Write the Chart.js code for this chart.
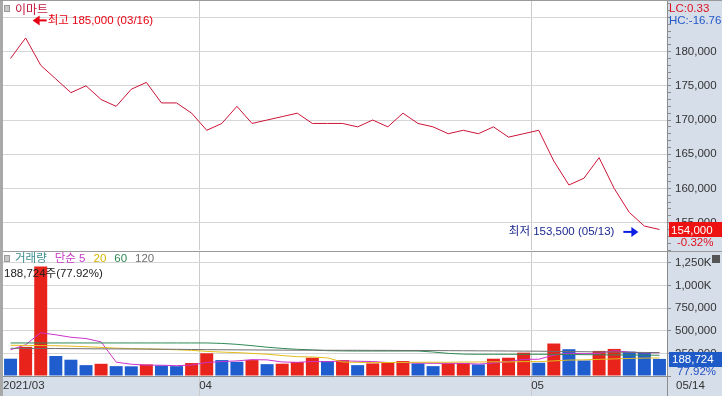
<!DOCTYPE html>
<html>
<head>
<meta charset="utf-8">
<script src="https://cdn.jsdelivr.net/npm/chart.js"></script>
<style>
  html, body { margin: 0; padding: 0; background: #fff; }
  #wrap { position: relative; width: 722px; height: 396px; overflow: hidden; background: #fff; }
  .abs { position: absolute; }
  #axisBg { left: 667px; top: 0; width: 55px; height: 396px; background: #d5dee9; }
  #bandBg { left: 0; top: 376px; width: 722px; height: 20px; background: #d5dee9; }
  #sep { left: 0; top: 251px; width: 722px; height: 1px; background: #9a9a9a; }
  #leftEdge { left: 0; top: 0; width: 3px; height: 396px; background: #a8a8a8; }
  #topEdge { left: 0; top: 0; width: 722px; height: 1px; background: #9a9a9a; }
  #price { left: 0; top: 0; }
  #volume { left: 0; top: 251px; }
</style>
</head>
<body>
<div id="wrap">
  <div class="abs" id="axisBg"></div>
  <div class="abs" id="bandBg"></div>
  <div class="abs" id="sep"></div>
  <canvas class="abs" id="price" width="722" height="251"></canvas>
  <canvas class="abs" id="volume" width="722" height="145"></canvas>
  <div class="abs" id="leftEdge"></div>
  <div class="abs" id="topEdge"></div>
</div>
<script>
// ---- data ----
const stockName = '이마트';
const firstTickLabel = '2021/03';

const dates = [
  '03/15', '03/16', '03/17', '03/18', '03/19', '03/22', '03/23', '03/24', '03/25', '03/26', '03/29', '03/30', '03/31',
  '04/01', '04/02', '04/05', '04/06', '04/07', '04/08', '04/09', '04/12', '04/13', '04/14', '04/15', '04/16',
  '04/19', '04/20', '04/21', '04/22', '04/23', '04/26', '04/27', '04/28', '04/29', '04/30',
  '05/03', '05/04', '05/06', '05/07', '05/10', '05/11', '05/12', '05/13', '05/14'
];

const closes = [
  179000, 182000, 178000, 176000, 174000, 175000, 173000, 172000, 174500, 175500, 172500, 172500, 171000,
  168500, 169500, 172000, 169500, 170000, 170500, 171000, 169500, 169500, 169500, 169000, 170000,
  169000, 171000, 169500, 169000, 168000, 168500, 168000, 169000, 167500, 168000,
  168500, 164000, 160500, 161500, 164500, 160000, 156500, 154500, 154000
];

const volumes = [
  191000, 322000, 1210000, 221000, 180000, 120000, 135000, 109000, 107000, 128000, 116000, 109000, 143000,
  251000, 176000, 157000, 176000, 131000, 136000, 154000, 202000, 165000, 176000, 120000, 139000,
  146000, 165000, 139000, 109000, 139000, 143000, 128000, 191000, 202000, 258000,
  146000, 359000, 296000, 172000, 277000, 299000, 269000, 258000, 188724
];

const ma5 = [
  290000, 345000, 478000, 455000, 428000, 414000, 377000, 153000, 130000, 120000, 119000, 114000, 121000,
  149000, 159000, 167000, 181000, 178000, 155000, 151000, 160000, 158000, 167000, 163000, 160000,
  149000, 149000, 142000, 140000, 140000, 139000, 132000, 142000, 161000, 184000,
  185000, 231000, 252000, 246000, 250000, 281000, 263000, 255000, 258000
];

const ma20 = [
  340000, 338000, 336000, 334000, 330000, 324000, 316000, 308000, 303000, 299000, 295000, 290000, 283000,
  272000, 264000, 258000, 250000, 240000, 226000, 214000, 210000, 200000, 155000, 150000, 148000,
  149000, 150000, 152000, 152000, 152000, 154000, 155000, 157000, 155000, 159000,
  158000, 167000, 176000, 178000, 184000, 189000, 194000, 198000, 200000
];

const ma60 = [
  365000, 365000, 365000, 365000, 365000, 365000, 365000, 365000, 365000, 365000, 365000, 365000, 365000,
  365000, 360000, 350000, 335000, 318000, 305000, 295000, 288000, 280000, 277000, 276000, 276000,
  276000, 276000, 276000, 265000, 250000, 242000, 240000, 240000, 240000, 240000,
  240000, 240000, 238000, 236000, 234000, 233000, 232000, 231000, 229000
];

const ma120 = [
  306000, 305000, 304000, 303000, 302000, 301000, 300000, 299000, 298000, 297000, 296000, 295000, 293000,
  291000, 290000, 289000, 288000, 287000, 286000, 285000, 285000, 284000, 284000, 284000, 283000,
  283000, 282000, 282000, 281000, 280000, 279000, 278000, 277000, 276000, 275000,
  274000, 272000, 270000, 268000, 266000, 264000, 262000, 260000, 258000
];

const highPrice = 185000, highDate = '03/16';
const lowPrice = 153500, lowDate = '05/13';
const lcText = 'LC:0.33', hcText = 'HC:-16.76';
const lastChange = '-0.32%';
const volumeRatio = '77.92%';
const priceLabelTop = 180000;   // labels above this are covered by LC/HC

// ---- styles ----
const FONT = '11.5px "Liberation Sans", "Noto Sans CJK KR", sans-serif';
const KFONT = '12px "Noto Sans CJK KR", "Liberation Sans", sans-serif';
const GRID = '#d6d6d6';
const AXIS = '#8c8c8c';
const UP = '#e8231b', DOWN = '#1f5dcf';
const AXIS_W = 55;

Chart.defaults.font.family = '"Liberation Sans", "Noto Sans CJK KR", sans-serif';
Chart.defaults.font.size = 11.5;
Chart.defaults.color = '#333';

const fmt = v => v.toLocaleString('en-US');

// boundary labels: one per bar edge, month name where a month starts
const boundaryLabels = [];
for (let i = 0; i <= dates.length; i++) {
  if (i === 0) boundaryLabels.push(firstTickLabel);
  else if (i < dates.length && dates[i].slice(0, 2) !== dates[i - 1].slice(0, 2)) boundaryLabels.push(dates[i].slice(0, 2));
  else boundaryLabels.push('');
}
const edgeColor = ctx => {
  const i = ctx.index;
  if (i === boundaryLabels.length - 1) return AXIS;
  return i > 0 && boundaryLabels[i] ? '#cbcbcb' : 'transparent';
};

// ticks on whole multiples of the step, inside the axis range
const stepTicks = step => s => {
  const ticks = [];
  for (let v = Math.ceil(s.min / step) * step; v <= s.max; v += step) ticks.push({ value: v });
  s.ticks = ticks;
};

// fixed axis width and no extra room for half labels
const fitRight = s => {
  s.width = AXIS_W;
  s.paddingTop = 0;
  s.paddingBottom = 0;
};

function marker(ctx, x, y) {
  ctx.fillStyle = '#9a9a9a';
  ctx.fillRect(x, y, 6, 7);
  ctx.fillStyle = '#c8c8c8';
  ctx.fillRect(x + 1, y + 1, 4, 5);
}

function arrow(ctx, x1, y1, x2, y2, color) {
  const dir = Math.sign(x2 - x1);
  ctx.strokeStyle = color;
  ctx.fillStyle = color;
  ctx.lineWidth = 2;
  ctx.beginPath();
  ctx.moveTo(x1, y1);
  ctx.lineTo(x2 - dir * 5, y2);
  ctx.stroke();
  ctx.beginPath();
  ctx.moveTo(x2, y2);
  ctx.lineTo(x2 - dir * 7, y2 - 5);
  ctx.lineTo(x2 - dir * 7, y2 + 5);
  ctx.closePath();
  ctx.fill();
}

const priceNotes = {
  id: 'priceNotes',
  afterDraw(chart) {
    const { ctx, chartArea, scales } = chart;
    const x = scales.x, y = scales.y;
    ctx.save();
    ctx.textBaseline = 'middle';
    ctx.textAlign = 'left';

    marker(ctx, 4, 5);
    ctx.font = KFONT;
    ctx.fillStyle = '#c4183c';
    ctx.fillText(stockName, 15, 9);

    // highest
    const hx = x.getPixelForValue(dates.indexOf(highDate)) + 7;
    const hy = y.getPixelForValue(highPrice) + 3;
    arrow(ctx, hx + 14, hy, hx, hy, '#e60012');
    ctx.font = FONT;
    ctx.fillStyle = '#e60012';
    ctx.fillText('최고 ' + fmt(highPrice) + ' (' + highDate + ')', hx + 15, hy);

    // lowest
    const lx = x.getPixelForValue(dates.indexOf(lowDate)) - 6;
    const ly = y.getPixelForValue(lowPrice) - 1;
    arrow(ctx, lx - 15, ly, lx, ly, '#0a1ee6');
    ctx.textAlign = 'right';
    ctx.fillStyle = '#1c2890';
    ctx.fillText('최저 ' + fmt(lowPrice) + ' (' + lowDate + ')', lx - 24, ly);

    // axis corner notes
    const ax = chartArea.right + 2;
    ctx.textAlign = 'left';
    ctx.fillStyle = '#e0101e';
    ctx.fillText(lcText, ax, 9);
    ctx.fillStyle = '#2457c8';
    ctx.fillText(hcText, ax, 21);

    // last price tag
    const last = closes[closes.length - 1];
    const ty = y.getPixelForValue(last);
    ctx.fillStyle = '#ee1111';
    ctx.fillRect(ax, Math.round(ty) - 7, chart.width - ax, 15);
    ctx.fillStyle = '#fff';
    ctx.fillText(fmt(last), ax + 2, ty + 1);
    ctx.fillStyle = '#e0101e';
    ctx.fillText(lastChange, ax + 8, ty + 13);
    ctx.restore();
  }
};

const volumeNotes = {
  id: 'volumeNotes',
  afterDraw(chart) {
    const { ctx, chartArea, scales } = chart;
    const y = scales.y;
    ctx.save();
    ctx.textBaseline = 'middle';
    ctx.textAlign = 'left';

    marker(ctx, 4, 4);
    const legend = [
      ['거래량', '#3a8e8e'], ['단순 5', '#c43cc4'], ['20', '#d8b400'], ['60', '#2f8a55'], ['120', '#707070']
    ];
    let lx = 15;
    ctx.font = FONT;
    legend.forEach(([t, c]) => {
      ctx.fillStyle = c;
      ctx.fillText(t, lx, 8);
      lx += ctx.measureText(t).width + 8;
    });

    const last = volumes[volumes.length - 1];
    ctx.fillStyle = '#222';
    ctx.fillText(fmt(last) + '주(' + volumeRatio + ')', 4, 23);

    // last volume tag
    const ax = chartArea.right + 2;
    const ty = y.getPixelForValue(last);
    ctx.fillStyle = '#1f5bc6';
    ctx.fillRect(ax, Math.round(ty) - 7, chart.width - ax, 15);
    ctx.fillStyle = '#fff';
    ctx.fillText(fmt(last), ax + 3, ty + 1);
    ctx.fillStyle = '#2350c4';
    ctx.fillText(volumeRatio, ax + 8, ty + 13);

    // last date in the corner
    ctx.fillStyle = '#333';
    ctx.fillText(dates[dates.length - 1], chartArea.right + 9, scales.xb.top + 10);

    // small close box
    ctx.fillStyle = '#555';
    ctx.fillRect(chart.width - 10, 4, 8, 8);
    ctx.restore();
  }
};

new Chart(document.getElementById('price'), {
  type: 'line',
  data: {
    labels: dates,
    datasets: [{
      data: closes,
      borderColor: '#cc1438',
      borderWidth: 1,
      pointRadius: 0,
      tension: 0
    }]
  },
  options: {
    responsive: false,
    animation: false,
    layout: { padding: { top: 1, left: 3, right: 0, bottom: 1 } },
    plugins: { legend: { display: false }, tooltip: { enabled: false } },
    scales: {
      x: { type: 'category', labels: dates, offset: true, display: false },
      xb: {
        type: 'category', labels: boundaryLabels, offset: false, position: 'bottom',
        grid: { color: edgeColor, drawTicks: false, offset: false },
        ticks: { display: false },
        border: { display: false },
        afterFit: s => { s.height = 0; }
      },
      y: {
        position: 'right',
        min: 151000, max: 187400,
        afterFit: fitRight,
        afterBuildTicks: stepTicks(1000),
        border: { color: AXIS },
        grid: {
          color: c => c.tick && c.tick.value % 5000 === 0 ? GRID : 'transparent',
          tickColor: AXIS, tickLength: 4
        },
        ticks: {
          autoSkip: false, padding: 4,
          callback: v => (v % 5000 === 0 && v <= priceLabelTop) ? fmt(v) : ''
        }
      }
    }
  },
  plugins: [priceNotes]
});

const barColors = volumes.map((v, i) => (i > 0 && v > volumes[i - 1]) ? UP : DOWN);
const maLine = (data, color) => ({
  type: 'line', data, borderColor: color, borderWidth: 1, pointRadius: 0, tension: 0, order: 0
});

new Chart(document.getElementById('volume'), {
  type: 'bar',
  data: {
    labels: dates,
    datasets: [
      maLine(ma120, '#6e6e6e'),
      maLine(ma60, '#2f8a55'),
      maLine(ma20, '#e3bd1c'),
      maLine(ma5, '#cc33cc'),
      {
        type: 'bar', data: volumes, backgroundColor: barColors,
        barPercentage: 0.86, categoryPercentage: 1, order: 1
      }
    ]
  },
  options: {
    responsive: false,
    animation: false,
    layout: { padding: { top: 1, left: 3, right: 0, bottom: 0 } },
    plugins: { legend: { display: false }, tooltip: { enabled: false } },
    scales: {
      x: { type: 'category', labels: dates, offset: true, display: false },
      xb: {
        type: 'category', labels: boundaryLabels, offset: false, position: 'bottom',
        grid: { color: edgeColor, tickColor: edgeColor, drawTicks: true, tickLength: 20, offset: false },
        border: { color: AXIS },
        ticks: { autoSkip: false, maxRotation: 0, align: 'start', padding: -17, color: '#333' },
        afterFit: s => { s.height = 20; }
      },
      y: {
        position: 'right',
        min: 0, max: 1370000,
        afterFit: fitRight,
        afterBuildTicks: stepTicks(250000),
        border: { color: AXIS },
        grid: {
          color: c => c.tick && c.tick.value > 0 ? GRID : 'transparent',
          tickColor: AXIS, tickLength: 4
        },
        ticks: {
          autoSkip: false, padding: 4,
          callback: v => v === 0 ? '' : (v >= 1000000 ? fmt(v / 1000) + 'K' : fmt(v))
        }
      }
    }
  },
  plugins: [volumeNotes]
});
</script>
</body>
</html>
